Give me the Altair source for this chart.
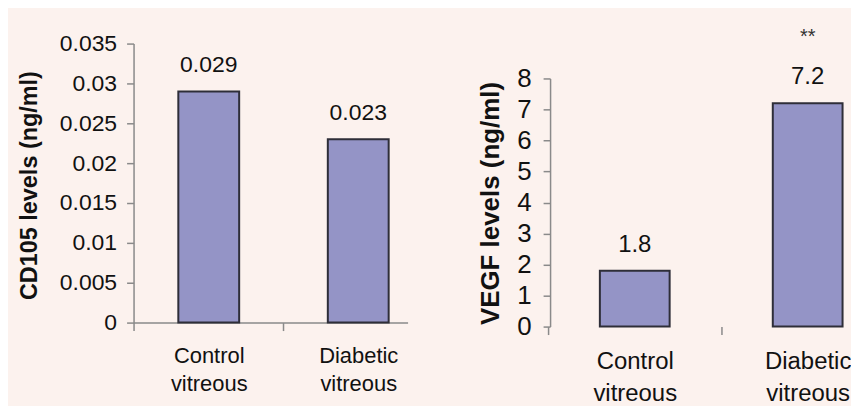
import altair as alt
import pandas as pd

# ---- data ----
categories = ["Control vitreous", "Diabetic vitreous"]
cd105_values = [0.029, 0.023]
cd105_labels = ["0.029", "0.023"]
vegf_values = [1.8, 7.2]
vegf_labels = ["1.8", "7.2"]
vegf_sig = ["", "**"]
cd105_ticks = [0, 0.005, 0.01, 0.015, 0.02, 0.025, 0.03, 0.035]
vegf_ticks = [0, 1, 2, 3, 4, 5, 6, 7, 8]

BG = "#fcf2ee"
BAR = "#9494c6"
EDGE = "#2e2e38"
AXIS = "#8a8a8a"
TXT = "#111111"
FONT = "Liberation Sans"

left_df = pd.DataFrame({"cat": categories, "val": cd105_values, "lab": cd105_labels})
right_df = pd.DataFrame({"cat": categories, "val": vegf_values, "lab": vegf_labels, "sig": vegf_sig})

LEFT_W, LEFT_H = 275, 303
RIGHT_W, RIGHT_H = 297, 307

# ---- left panel ----
xl = alt.X(
    "cat:N", sort=categories,
    scale=alt.Scale(paddingInner=0.593, paddingOuter=0.213, align=0.703),
    axis=alt.Axis(title=None, labelExpr="split(datum.label, ' ')", labelAngle=0,
                  labelFont=FONT, labelFontSize=22, labelColor=TXT, labelLineHeight=28,
                  labelPadding=15, tickSize=8, tickOffset=-75, labelOffset=75,
                  labelOverlap=False,
                  domainColor=AXIS, tickColor=AXIS, domainWidth=1.5, tickWidth=1.5),
)
yl = alt.Y(
    "val:Q",
    scale=alt.Scale(domain=[0, 0.035], range=[LEFT_H, 23], nice=False),
    axis=alt.Axis(values=cd105_ticks, labelExpr="toString(datum.value)", grid=False,
                  labelFont=FONT, labelFontSize=23, labelColor=TXT, labelPadding=10,
                  labelOverlap=False,
                  tickSize=7, domainColor=AXIS, tickColor=AXIS, domainWidth=1.5, tickWidth=1.5,
                  title="CD105 levels (ng/ml)", titleFont=FONT, titleFontSize=23.5,
                  titleFontWeight="bold", titleColor=TXT, titleX=-104, titleY=165,
                  titleBaseline="middle", titleAngle=270),
)
lbase = alt.Chart(left_df).encode(x=xl, y=yl)
lb = lbase.mark_bar(fill=BAR, stroke=EDGE, strokeWidth=2)
lt = lbase.mark_text(font=FONT, fontSize=23, color=TXT, baseline="alphabetic", dy=-19).encode(text="lab:N")
left = alt.layer(lb, lt).properties(width=LEFT_W, height=LEFT_H)

# ---- right panel ----
xr = alt.X(
    "cat:N", sort=categories,
    scale=alt.Scale(paddingInner=0.5965, paddingOuter=0.154, align=0.935),
    axis=alt.Axis(title=None, labelExpr="split(datum.label, ' ')", labelAngle=0,
                  labelFont=FONT, labelFontSize=24, labelColor=TXT, labelLineHeight=32,
                  labelPadding=15, tickSize=8, tickOffset=-86.75, labelOffset=86.75,
                  labelOverlap=False,
                  domain=False, tickColor=AXIS, tickWidth=1.5),
)
yr = alt.Y(
    "val:Q",
    scale=alt.Scale(domain=[0, 8], range=[RIGHT_H, 58], nice=False),
    axis=alt.Axis(values=vegf_ticks, grid=False,
                  labelFont=FONT, labelFontSize=26, labelColor=TXT, labelPadding=12,
                  labelOverlap=False,
                  tickSize=7, domainColor=AXIS, tickColor=AXIS, domainWidth=1.5, tickWidth=1.5,
                  title="VEGF levels (ng/ml)", titleFont=FONT, titleFontSize=26,
                  titleFontWeight="bold", titleColor=TXT, titleX=-60, titleY=183,
                  titleBaseline="middle", titleAngle=270),
)
rbase = alt.Chart(right_df).encode(x=xr, y=yr)
rb = rbase.mark_bar(fill=BAR, stroke=EDGE, strokeWidth=2)
rt = rbase.mark_text(font=FONT, fontSize=24, color=TXT, baseline="alphabetic", dy=-19).encode(text="lab:N")
rs = rbase.mark_text(font=FONT, fontSize=20, color="#333333", baseline="alphabetic", dy=-60).encode(text="sig:N")
right = alt.layer(rb, rt, rs).properties(width=RIGHT_W, height=RIGHT_H)

chart = alt.hconcat(left, right, spacing=70).properties(
    background=BG,
    padding={"left": 10, "top": 12, "right": 0, "bottom": 0},
).configure_view(stroke=None)

chart.save("out.html", embed_options={"renderer": "svg", "actions": False})
